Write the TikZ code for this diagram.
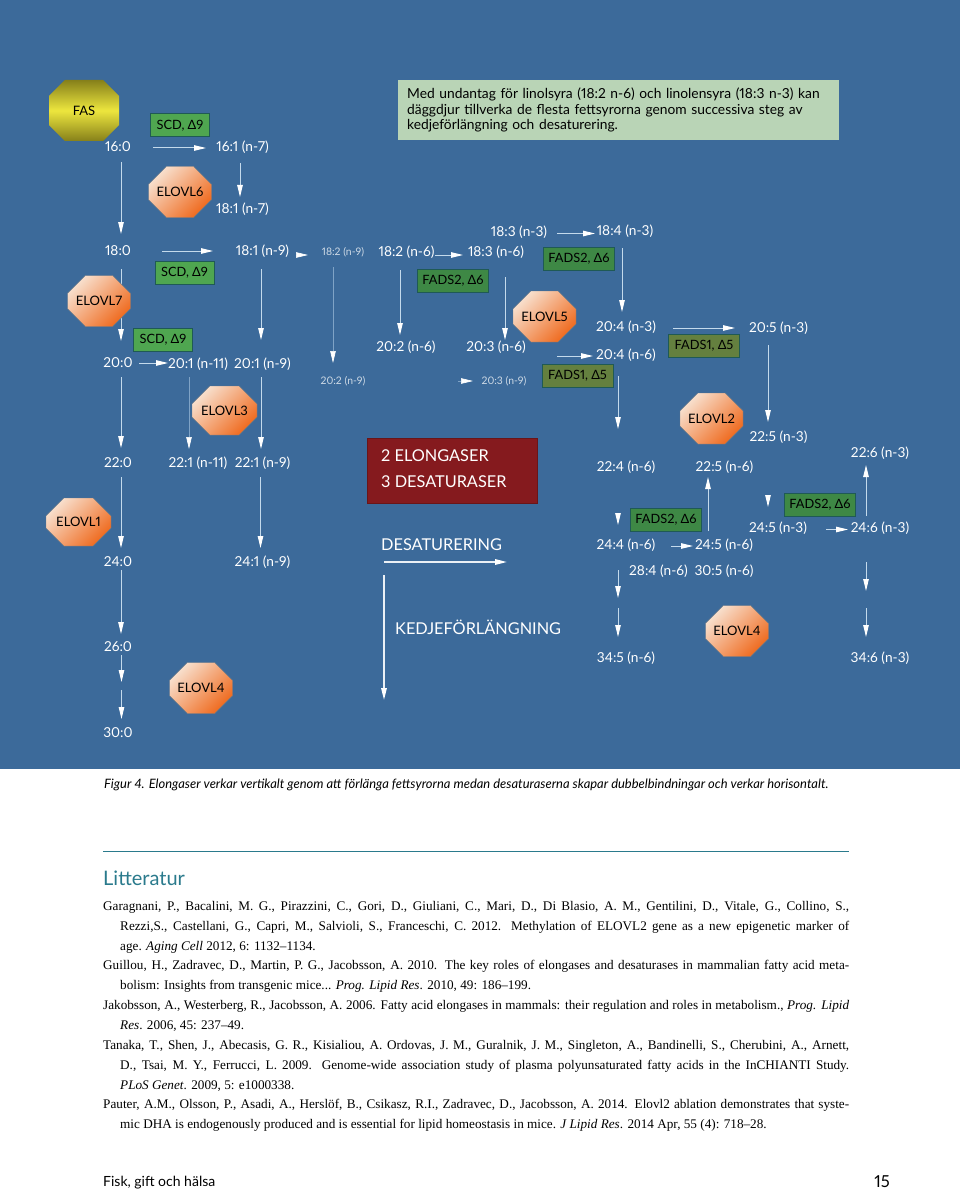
\documentclass[tikz,border=0pt]{standalone}
\usepackage{fontspec}
\setmainfont{Liberation Serif}
\newfontfamily\figfont[Numbers=Proportional]{Lato}
\usetikzlibrary{shapes,arrows.meta,positioning}
\definecolor{bluebg}{HTML}{3C6A9A}
\definecolor{shaftblue}{HTML}{C4DAEC}
\definecolor{faintblue}{HTML}{7FA3C6}
\definecolor{infogreen}{HTML}{B9D4B6}
\definecolor{scdgreen}{HTML}{4FA650}
\definecolor{fadsgreen}{HTML}{3E8845}
\definecolor{fadsolive}{HTML}{64803F}
\definecolor{boxedge}{HTML}{1F5A55}
\definecolor{darkred}{HTML}{851A1E}
\definecolor{tealhead}{HTML}{2A7A8C}
\definecolor{elovllight}{HTML}{F8E0CE}
\definecolor{elovldark}{HTML}{EF6A1E}
\definecolor{fasdark}{HTML}{86801A}
\definecolor{fasbright}{HTML}{EDE63E}
\tikzstyle{fatty} = [text=white,font=\figfont\fontsize{13.7}{15}\selectfont,inner sep=0,text height=8.5pt,text depth=0pt]
\tikzstyle{fattysmall} = [fatty,text=white!75!bluebg,font=\figfont\fontsize{10.4}{13}\selectfont,text height=7pt]
\tikzstyle{enzyme} = [draw=boxedge,line width=1pt,rectangle,inner sep=0,minimum width=71pt,minimum height=23pt,text=black,font=\figfont\fontsize{12.8}{15}\selectfont]
\tikzstyle{scd} = [enzyme,fill=scdgreen,minimum width=59pt]
\tikzstyle{fadstwo} = [enzyme,fill=fadsgreen]
\tikzstyle{fadsone} = [enzyme,fill=fadsolive]
\tikzstyle{elovl} = [chamfered rectangle,chamfered rectangle xsep=15pt,chamfered rectangle ysep=13pt,draw=gray!70!bluebg,inner sep=0,minimum width=63pt,minimum height=51pt,shading=axis,top color=elovllight,bottom color=elovldark,shading angle=45,text=black,font=\figfont\fontsize{13}{15}\selectfont]
\tikzstyle{flow} = [draw=shaftblue,line width=1pt,-{Triangle[length=12pt,width=5.5pt,color=white,fill=white]}]
\tikzstyle{faint} = [flow,draw=faintblue,line width=.6pt]
\tikzstyle{bigflow} = [flow,line width=1.5pt,draw=white!90!bluebg]
\tikzstyle{head} = [text=white,font=\figfont\fontsize{16.3}{19}\selectfont,inner sep=0,anchor=west]
\begin{document}
\begin{tikzpicture}[x=1pt,y=-1pt]
  \useasboundingbox (0,0) rectangle (960,1193);
  \fill[bluebg] (0,0) rectangle (960,769);
  % info box
  \node[draw=none,fill=infogreen,inner sep=0,anchor=north west,minimum width=441pt,minimum height=60pt,text width=423pt,align=left,font=\figfont\fontsize{13.8}{15.6}\selectfont] (info) at (398,80)
    {Med undantag för linolsyra (18:2 n-6) och linolensyra (18:3 n-3) kan\\ däggdjur tillverka de flesta fettsyrorna genom successiva steg av\\ kedjeförlängning och desaturering.};
  % fatty acids
  \foreach \nm/\px/\py/\txt in {
    f160/118/147/16:0, f161n7/242.5/147/16:1 (n-7), f181n7/242.5/209/18:1 (n-7),
    f180/118/251/18:0, f181n9/262.5/251/18:1 (n-9), f182n6/406.5/252/18:2 (n-6),
    f183n6/496/252/18:3 (n-6), f183n3/519/232/18:3 (n-3), f184n3/625/231/18:4 (n-3),
    f200/118/363/20:0, f201n11/198/364/20:1 (n-11), f201n9/262.5/364/20:1 (n-9),
    f202n6/406/347/20:2 (n-6), f203n6/496/347/20:3 (n-6), f204n3/626/327/20:4 (n-3),
    f204n6/626/355/20:4 (n-6), f205n3/778.5/328/20:5 (n-3), f225n3/778.5/437/22:5 (n-3),
    f220/118/463/22:0, f221n11/198/463/22:1 (n-11), f221n9/262.5/463/22:1 (n-9),
    f224n6/626/467/22:4 (n-6), f225n6/724.5/467/22:5 (n-6), f226n3/880/453/22:6 (n-3),
    f245n3/778/528/24:5 (n-3), f246n3/880/528/24:6 (n-3), f244n6/626/545/24:4 (n-6),
    f245n6/724/545/24:5 (n-6), f284n6/658.5/571/28:4 (n-6), f305n6/724/571/30:5 (n-6),
    f240/118/562/24:0, f241n9/262.5/562/24:1 (n-9), f260/118/647/26:0,
    f300/118/733/30:0, f345n6/626/658/34:5 (n-6), f346n3/880/658/34:6 (n-3)}
    \node[fatty] (\nm) at (\px,\py) {\txt};
  \node[fattysmall] (f182n9) at (343,252) {18:2 (n-9)};
  \node[fattysmall] (f202n9) at (343,381) {20:2 (n-9)};
  \node[fattysmall] (f203n9) at (504,381) {20:3 (n-9)};
  % breaks in the long arrows
  \coordinate (gap26) at (121.5,686);
  \coordinate (gap28) at (618,603);
  \coordinate (gap34) at (866,600);
  % down and up: from/to/x offset/start gap/end gap
  \foreach \a/\b/\dx/\s/\e in {
    f160/f180/3/15/17, f161n7/f181n7/-2.5/16/12, f180/f200/3/18/22, f181n9/f201n9/-1.5/18/24,
    f182n6/f202n6/-6.5/18/12, f183n6/f203n6/9/25/7, f184n3/f204n3/-3/17/15,
    f200/f220/3/14/15, f201n9/f221n9/-1.5/13/14,
    f204n6/f224n6/-8/21/38, f205n3/f225n3/-10.5/17/15,
    f224n6/f244n6/-8/46/20, f225n3/f245n3/-10.5/58/21,
    f245n6/f225n6/-16/-14/-10, f246n3/f226n3/-14/-12/-12,
    f220/f240/3/14/14, f221n9/f241n9/-2/14/14, f240/f260/3/8/13,
    f260/gap26/3.5/8/4, gap26/f300/0/4/14,
    f244n6/gap28/-8/25/5, gap28/f345n6/0/5/21,
    f246n3/gap34/-14/34/9, gap34/f346n3/0/8/21}{
    \coordinate (st) at ([shift={(\dx,\s)}]\a.center);
    \coordinate (en) at ([shift={(0,-\e)}]\b.center);
    \draw[flow] (st) -- (st |- en);
  }
  \foreach \a/\b/\dx/\s/\e in {f182n9/f202n9/-10/15/18, f201n11/f221n11/-9/13/14}{
    \coordinate (st) at ([shift={(\dx,\s)}]\a.center);
    \coordinate (en) at ([shift={(0,-\e)}]\b.center);
    \draw[faint] (st) -- (st |- en);
  }
  % across: from/to/y offset/start gap/end gap
  \foreach \a/\b/\dy/\s/\e in {
    f160/f161n7/1/35/36.5, f180/f181n9/0/44/49.5, f182n6/f183n6/3/28.5/33,
    f183n3/f184n3/1.5/38/30, f200/f201n11/0/21/30, f203n6/f204n6/9/61/33,
    f204n3/f205n3/1/47/43.5, f244n6/f245n6/1/45/31, f245n3/f246n3/1.5/48/32}{
    \coordinate (st) at ([shift={(\s,\dy)}]\a.center);
    \coordinate (en) at ([shift={(-\e,0)}]\b.center);
    \draw[flow] (st) -- (st -| en);
  }
  \foreach \a/\b/\dy/\s/\e in {f181n9/f182n9/4/34.5/35, f202n9/f203n9/0/115/31}{
    \coordinate (st) at ([shift={(\s,\dy)}]\a.center);
    \coordinate (en) at ([shift={(-\e,0)}]\b.center);
    \draw[faint] (st) -- (st -| en);
  }
  % enzymes
  \node[elovl,chamfered rectangle xsep=16pt,chamfered rectangle ysep=14pt,minimum width=70pt,minimum height=61pt,top color=fasdark,bottom color=fasdark,middle color=fasbright,shading angle=0,draw=none] (fas) at (84,110.5) {FAS};
  \node[elovl] (elovl6) at (180,192) {ELOVL6};
  \node[elovl] (elovl7) at (99,301) {ELOVL7};
  \node[elovl,minimum width=65pt,minimum height=49pt] (elovl3) at (224.5,410.5) {ELOVL3};
  \node[elovl,minimum width=65pt,minimum height=48pt] (elovl1) at (78.5,522) {ELOVL1};
  \node[elovl] (elovl4a) at (201,688) {ELOVL4};
  \node[elovl] (elovl5) at (544.5,316.5) {ELOVL5};
  \node[elovl] (elovl2) at (711.5,418.5) {ELOVL2};
  \node[elovl] (elovl4b) at (737,631) {ELOVL4};
  \node[scd] (scd1) at (180,125.5) {SCD, Δ9};
  \node[scd] (scd2) at (184.5,272.5) {SCD, Δ9};
  \node[scd] (scd3) at (163,339.5) {SCD, Δ9};
  \node[fadstwo] (fads2a) at (453,281) {FADS2, Δ6};
  \node[fadstwo] (fads2b) at (579,258.5) {FADS2, Δ6};
  \node[fadstwo] (fads2c) at (666,520) {FADS2, Δ6};
  \node[fadstwo] (fads2d) at (820,505) {FADS2, Δ6};
  \node[fadsone] (fads1a) at (577.5,375.5) {FADS1, Δ5};
  \node[fadsone] (fads1b) at (704,346) {FADS1, Δ5};
  % legend
  \node[draw=darkred!80!black,fill=darkred,inner sep=0,anchor=north west,minimum width=170pt,minimum height=65pt] (redbox) at (367,438) {};
  \node[head] (elong) at (381,456) {2 ELONGASER};
  \node[head] (desat) at (381,482) {3 DESATURASER};
  \node[head] (desatlbl) at (381,545) {DESATURERING};
  \node[head] (kedjelbl) at (395,627) {KEDJEFÖRLÄNGNING};
  \coordinate (hstart) at (384,562);
  \coordinate (hend) at (507,562);
  \coordinate (vstart) at (384,575);
  \coordinate (vend) at (384,700);
  \draw[bigflow] (hstart) -- (hend);
  \draw[bigflow] (vstart) -- (vend);
  % text below the figure
  \node[anchor=west,inner sep=0,font=\figfont\itshape\fontsize{12.95}{15}\selectfont] (caption) at (104,785)
    {Figur 4. Elongaser verkar vertikalt genom att förlänga fettsyrorna medan desaturaserna skapar dubbelbindningar och verkar horisontalt.};
  \coordinate (rulea) at (103,851);
  \coordinate (ruleb) at (849,851);
  \draw[tealhead,line width=.8pt] (rulea) -- (ruleb);
  \node[anchor=west,inner sep=0,text=tealhead,font=\figfont\fontsize{20}{24}\selectfont] (litt) at (103,878) {Litteratur};
  \node[anchor=north west,inner sep=0,text width=746pt,align=justify,font=\fontsize{13.2}{19.85}\selectfont] (refs) at (103,901) {%
    \emergencystretch=3em\hangindent=17pt\hangafter=1
    Garagnani, P., Bacalini, M. G., Pirazzini, C., Gori, D., Giuliani, C., Mari, D., Di Blasio, A. M., Gentilini, D., Vitale, G., Collino, S.,\linebreak
    Rezzi,S., Castellani, G., Capri, M., Salvioli, S., Franceschi, C. 2012. Methylation of ELOVL2 gene as a new epigenetic marker of\linebreak
    age. \textit{Aging Cell} 2012, 6: 1132–1134.\par
    \hangindent=17pt\hangafter=1
    Guillou, H., Zadravec, D., Martin, P. G., Jacobsson, A. 2010. The key roles of elongases and desaturases in mammalian fatty acid meta-\linebreak
    bolism: Insights from transgenic mice... \textit{Prog. Lipid Res}. 2010, 49: 186–199.\par
    \hangindent=17pt\hangafter=1
    Jakobsson, A., Westerberg, R., Jacobsson, A. 2006. Fatty acid elongases in mammals: their regulation and roles in metabolism., \textit{Prog. Lipid}\linebreak
    \textit{Res}. 2006, 45: 237–49.\par
    \hangindent=17pt\hangafter=1
    Tanaka, T., Shen, J., Abecasis, G. R., Kisialiou, A. Ordovas, J. M., Guralnik, J. M., Singleton, A., Bandinelli, S., Cherubini, A., Arnett,\linebreak
    D., Tsai, M. Y., Ferrucci, L. 2009. Genome-wide association study of plasma polyunsaturated fatty acids in the InCHIANTI Study.\linebreak
    \textit{PLoS Genet}. 2009, 5: e1000338.\par
    \hangindent=17pt\hangafter=1
    Pauter, A.M., Olsson, P., Asadi, A., Herslöf, B., Csikasz, R.I., Zadravec, D., Jacobsson, A. 2014. Elovl2 ablation demonstrates that syste-\linebreak
    mic DHA is endogenously produced and is essential for lipid homeostasis in mice. \textit{J Lipid Res}. 2014 Apr, 55 (4): 718–28.\par};
  \node[anchor=west,inner sep=0,font=\figfont\fontsize{14}{18}\selectfont] (footer) at (103,1183) {Fisk, gift och hälsa};
  \node[anchor=east,inner sep=0,font=\figfont\fontsize{16.5}{20}\selectfont] (pageno) at (890,1182) {15};
\end{tikzpicture}
\end{document}
